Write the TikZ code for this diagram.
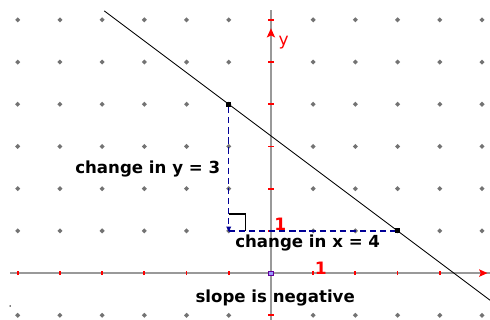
\documentclass[tikz,border=0pt]{standalone}
\usepackage{fontspec}
\setmainfont{DejaVu Sans}
\definecolor{navyb}{RGB}{0,0,150}
\begin{document}
\begin{tikzpicture}[
  gdot/.style={fill=black!55,inner sep=0pt,minimum size=2.4pt,shape=rectangle,rotate=45},
  axisline/.style={draw=black!40,line width=1.3pt},
  tick/.style={draw=red,line width=1.2pt},
  bluedash/.style={draw=navyb,line width=1pt,dash pattern=on 4.2pt off 2.6pt},
  lbl/.style={font=\bfseries\fontsize{11.2}{13}\selectfont,text=black,inner sep=0pt},
  redlbl/.style={font=\bfseries\fontsize{11.5}{13}\selectfont,text=red,inner sep=0pt},
  pt/.style={fill=black,inner sep=0pt,minimum size=3.5pt,shape=rectangle}
]
\useasboundingbox (-6.42,-1.11) rectangle (5.19,6.47);
\fill[white] (-6.42,-1.11) rectangle (5.19,6.47);
% grid dots
\foreach \x in {-6,...,5}{
  \foreach \y in {-1,...,6}{
    \ifnum\x=0\else\ifnum\y=0\else
      \node[gdot] at (\x,\y) {};
    \fi\fi
  }
}
% axes
\coordinate (xl) at (-6.18,0);
\coordinate (xr) at (5.19,0);
\coordinate (yb) at (0,-1.11);
\coordinate (yt) at (0,6.23);
\draw[axisline] (xl) -- (xr);
\draw[axisline] (yb) -- (yt);
\foreach \x in {-6,...,5}{\ifnum\x=0\else \draw[tick] (\x,-0.05) -- (\x,0.05);\fi}
\foreach \y in {-1,...,6}{\ifnum\y=0\else \draw[tick] (-0.07,\y) -- (0.07,\y);\fi}
% arrowheads of axes
\fill[red] (5.13,0) -- (4.93,0.09) -- (4.97,0) -- (4.93,-0.09) -- cycle;
\fill[red] (0,5.8) -- (-0.1,5.58) -- (0,5.63) -- (0.1,5.58) -- cycle;
\node[draw=blue!60!red,fill=blue!40,inner sep=0pt,minimum size=3pt] (o) at (0,0) {};
\node[font=\fontsize{11.5}{13}\selectfont,text=red,inner sep=0pt] (ylab) at (0.3,5.45) {y};
\node[redlbl] (one1) at (0.22,1.16) {1};
\node[redlbl] (one2) at (1.18,0.12) {1};
% line
\coordinate (la) at (-3.95,6.2125);
\coordinate (lb) at (5.2,-0.65);
\draw[black,line width=0.6pt] (la) -- (lb);
% points
\node[pt] (P) at (-1,4) {};
\node[pt] (Q) at (3,1) {};
\coordinate (C) at (-1,1);
\draw[bluedash] (P) -- (C);
\draw[bluedash] (C) -- (Q);
\fill[navyb] (-1,0.98) -- (-1.06,1.1) -- (-0.94,1.1) -- cycle;
% right angle marker
\draw[black,line width=0.8pt] (-1,1.4) -- (-0.6,1.4) -- (-0.6,1);
% labels
\node[lbl] (cy) at (-2.92,2.47) {change in y = 3};
\node[lbl] (cx) at (0.87,0.72) {change in x = 4};
\node[lbl] (sl) at (0.1,-0.6) {slope is negative};
\fill[black] (-6.18,-0.78) circle (0.02);
\end{tikzpicture}
\end{document}
